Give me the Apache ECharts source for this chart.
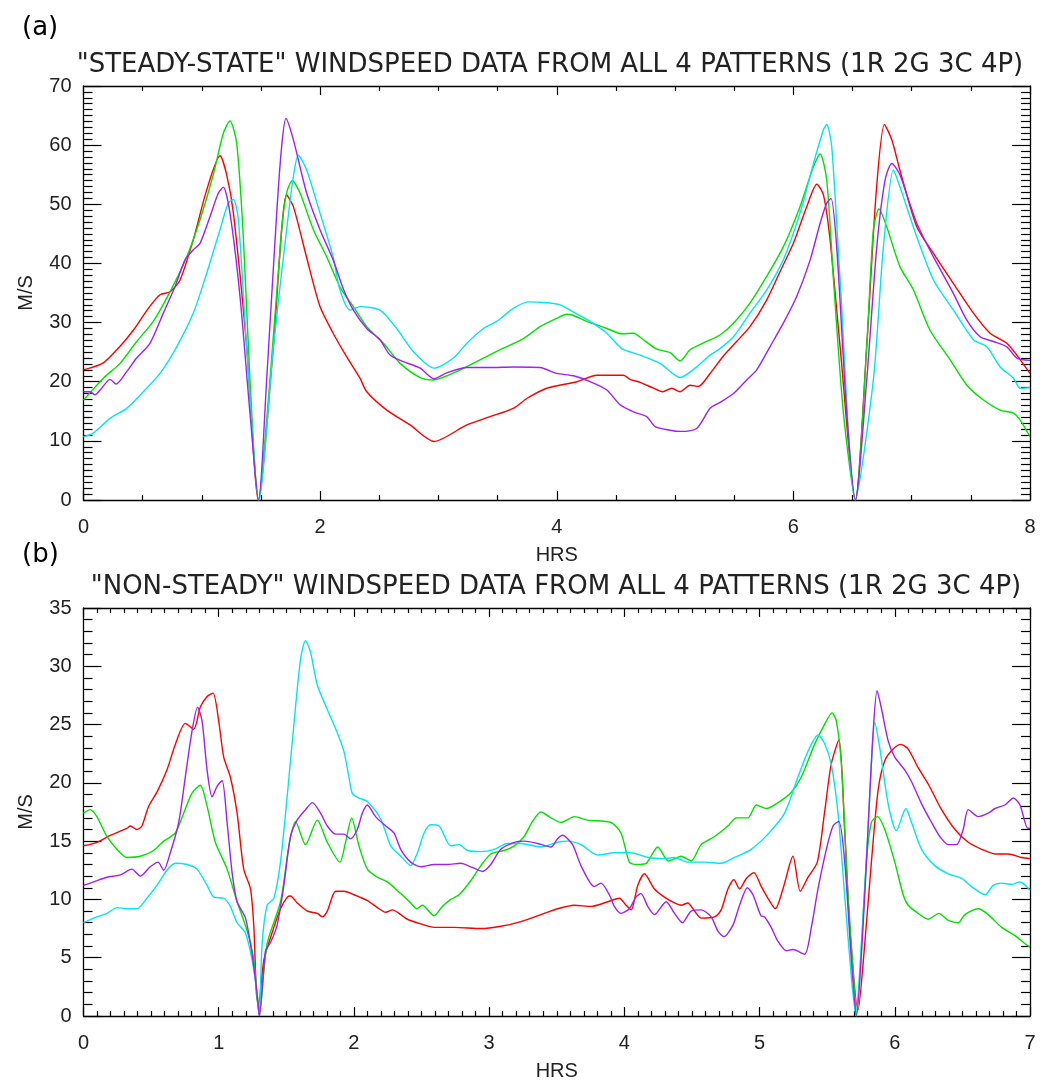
<!DOCTYPE html>
<html>
<head>
<meta charset="utf-8">
<script src="https://cdn.jsdelivr.net/npm/echarts@6/dist/echarts.min.js"></script>
<style>
html,body{margin:0;padding:0;background:#fff;}
#chart{width:1062px;height:1082px;}
</style>
</head>
<body>
<div id="chart"></div>
<script>
// ---------- DATA (hours, m/s) ----------
const panelATitle = '"STEADY-STATE" WINDSPEED DATA FROM ALL 4 PATTERNS (1R 2G 3C 4P)';
const panelBTitle = '"NON-STEADY" WINDSPEED DATA FROM ALL 4 PATTERNS (1R 2G 3C 4P)';
const seriesNames = ['1R', '2G', '3C', '4P'];
const seriesColors = ['#ff0000', '#00e100', '#00e6f0', '#a020f0'];

const steadyRed = [[0,22],[0.168,23.2],[0.309,26],[0.421,28.7],[0.548,32.4],[0.647,34.7],[0.731,35.2],[0.816,37.2],[0.928,44],[1.041,52.4],[1.154,58.2],[1.21,55],[1.267,48.5],[1.379,26],[1.478,0],[1.605,26],[1.717,51.6],[1.774,49.6],[1.886,41],[1.999,32.7],[2.11,28.2],[2.225,24.2],[2.337,20.6],[2.394,18.3],[2.563,15.2],[2.76,12.7],[2.963,9.9],[3.24,12.7],[3.436,14.1],[3.633,15.5],[3.75,17.2],[3.915,18.9],[4.169,20],[4.338,21.1],[4.563,21.1],[4.62,20.4],[4.704,19.9],[4.817,18.9],[4.896,18.3],[4.972,18.9],[5.042,18.3],[5.127,19.4],[5.197,19.2],[5.296,21.4],[5.41,24.4],[5.52,26.8],[5.633,29.3],[5.774,33.8],[5.887,38.6],[6.0,43.4],[6.113,49.6],[6.198,53.4],[6.254,51.6],[6.31,44],[6.395,25.9],[6.524,0],[6.62,26],[6.70,52],[6.77,63.5],[6.832,60.9],[6.9,55.8],[7.043,46.2],[7.184,41.7],[7.353,36.6],[7.522,31.6],[7.663,28.2],[7.804,26.5],[7.888,24.5],[8.0,21.4]];
const steadyGreen = [[0,16.9],[0.168,20.6],[0.309,23.1],[0.45,26.8],[0.59,30.2],[0.731,35.2],[0.872,41.1],[0.985,47.4],[1.097,55],[1.182,62],[1.238,64.1],[1.295,60.3],[1.351,44.5],[1.407,20.3],[1.478,0],[1.576,20.3],[1.675,45.7],[1.717,51.9],[1.765,54],[1.83,51.9],[1.943,45.7],[2.056,41.1],[2.168,36],[2.281,32.7],[2.394,29.3],[2.535,26.5],[2.676,23.1],[2.845,20.7],[2.957,20.3],[3.154,21.7],[3.352,23.7],[3.52,25.4],[3.718,27.3],[3.859,29.3],[3.999,30.7],[4.084,31.4],[4.14,31.2],[4.253,30.2],[4.423,29],[4.55,28.1],[4.648,28.2],[4.732,27.1],[4.845,25.5],[4.958,24.9],[5.042,23.5],[5.127,25.4],[5.268,26.8],[5.38,27.9],[5.494,29.9],[5.633,33.3],[5.774,37.8],[5.915,42.8],[6.056,49.6],[6.17,56.4],[6.226,58.5],[6.282,54.1],[6.339,37.2],[6.423,14.7],[6.524,0],[6.62,26],[6.676,45.7],[6.724,49.2],[6.789,46.2],[6.9,39.5],[7.015,35.5],[7.155,28.7],[7.325,23.7],[7.466,19.4],[7.607,16.9],[7.748,15.2],[7.86,14.7],[7.917,13.5],[8.0,10.7]];
const steadyCyan = [[0,10.7],[0.083,11.3],[0.224,13.8],[0.365,15.5],[0.506,18.3],[0.647,21.4],[0.788,25.9],[0.928,31.6],[1.041,38.3],[1.154,45.7],[1.224,50.2],[1.267,50.8],[1.309,47.4],[1.379,25.9],[1.483,0],[1.605,25.9],[1.717,45.7],[1.774,54.7],[1.816,58.3],[1.886,55.8],[1.999,48.5],[2.11,41.1],[2.168,35.5],[2.253,32.1],[2.337,32.7],[2.506,32.1],[2.647,29],[2.788,25.1],[2.963,22.3],[3.127,24],[3.24,26.5],[3.381,29],[3.493,30.2],[3.633,32.4],[3.76,33.5],[3.887,33.4],[4.028,33],[4.14,31.8],[4.282,30.2],[4.423,28.2],[4.55,25.6],[4.704,24.5],[4.873,23.1],[5.042,20.7],[5.183,22.5],[5.296,24.5],[5.38,25.6],[5.494,27.6],[5.633,31.6],[5.774,35.5],[5.915,40.6],[6.056,48.5],[6.17,56.9],[6.254,62.6],[6.282,63.5],[6.324,59.8],[6.395,37.2],[6.524,0],[6.676,20.3],[6.761,42.8],[6.846,55.8],[6.9,53],[7.043,44.5],[7.184,37.2],[7.353,32.1],[7.522,27.1],[7.635,25.9],[7.748,22.5],[7.86,20.6],[7.917,18.9],[8.0,19]];
const steadyPurple = [[0,18.3],[0.055,18.3],[0.097,17.8],[0.153,18.9],[0.224,20.4],[0.275,19.6],[0.365,21.7],[0.449,24],[0.562,26.5],[0.675,31.6],[0.774,36.1],[0.858,40.6],[0.928,42.3],[0.985,43.4],[1.069,47.9],[1.14,51.9],[1.182,52.9],[1.238,48.5],[1.323,34.4],[1.407,14.7],[1.48,0],[1.548,20.3],[1.633,48.5],[1.675,59.8],[1.711,64.5],[1.774,60.9],[1.886,51.9],[1.999,45.7],[2.11,40.6],[2.2,35.5],[2.281,32.1],[2.394,29],[2.506,27.1],[2.591,24.5],[2.704,23.4],[2.845,22.3],[2.963,20.5],[3.07,21.5],[3.24,22.4],[3.436,22.4],[3.633,22.5],[3.859,22.4],[3.999,21.4],[4.14,21],[4.282,20],[4.423,18.6],[4.535,16.1],[4.648,14.9],[4.76,14.1],[4.831,12.4],[4.958,11.8],[5.042,11.6],[5.183,12.1],[5.296,15.5],[5.38,16.5],[5.494,18],[5.606,20.3],[5.69,22],[5.802,25.9],[5.915,29.9],[6.028,34.4],[6.142,40.6],[6.226,46.8],[6.282,50.2],[6.318,51],[6.366,42.8],[6.451,14.7],[6.524,0],[6.62,20.3],[6.705,42.8],[6.775,54.1],[6.832,56.9],[6.9,55],[7.043,46.8],[7.184,41.1],[7.353,34.9],[7.466,30.4],[7.578,27.6],[7.691,26.8],[7.804,25.9],[7.888,24],[8.0,23.6]];

const nonSteadyRed = [[0,14.6],[0.099,14.9],[0.198,15.5],[0.321,16.1],[0.346,16.3],[0.395,16],[0.432,16.3],[0.482,18],[0.543,19.2],[0.617,21.1],[0.679,23.3],[0.753,25.1],[0.815,24.6],[0.864,26.5],[0.914,27.4],[0.958,27.7],[1.0,25.3],[1.037,22.2],[1.086,20.5],[1.136,17.4],[1.185,12.6],[1.235,10.9],[1.26,7.6],[1.279,1.9],[1.294,1.0],[1.334,4.8],[1.408,7.6],[1.457,9.2],[1.507,10.2],[1.531,10.3],[1.58,9.7],[1.655,9],[1.729,8.8],[1.766,8.5],[1.803,9],[1.865,10.7],[1.926,10.7],[2.0,10.4],[2.099,9.9],[2.173,9.3],[2.235,8.9],[2.284,9.1],[2.346,8.7],[2.395,8.3],[2.494,7.9],[2.593,7.6],[2.741,7.6],[2.939,7.5],[3.087,7.7],[3.235,8.1],[3.383,8.7],[3.506,9.2],[3.63,9.5],[3.753,9.4],[3.877,9.8],[3.963,10.1],[4.013,9.5],[4.05,9.1],[4.099,11.2],[4.148,12.2],[4.222,10.9],[4.296,10.2],[4.371,9.7],[4.42,9.5],[4.469,9.7],[4.519,9],[4.568,8.4],[4.667,8.5],[4.716,9.1],[4.766,10.9],[4.81,11.7],[4.852,10.9],[4.902,11.8],[4.958,12.3],[5.013,11.1],[5.062,10.1],[5.116,9.2],[5.173,10.9],[5.247,13.7],[5.301,10.7],[5.358,11.9],[5.427,13.2],[5.48,17.4],[5.53,21.6],[5.587,23.7],[5.629,16],[5.667,7.6],[5.728,0.5],[5.778,6.2],[5.827,13.2],[5.877,19.4],[5.926,21.9],[5.988,22.9],[6.045,23.3],[6.099,22.9],[6.173,21.3],[6.247,19.9],[6.346,17.7],[6.445,16],[6.543,14.9],[6.642,14.3],[6.741,13.9],[6.84,13.9],[6.938,13.6],[7.0,13.5]];
const nonSteadyGreen = [[0,17.4],[0.049,17.7],[0.099,17.1],[0.173,15.4],[0.247,14.3],[0.321,13.6],[0.42,13.7],[0.519,14.2],[0.593,15],[0.679,15.7],[0.741,17.4],[0.802,19.1],[0.864,19.8],[0.914,18],[0.975,14.9],[1.062,12.6],[1.136,9.8],[1.21,7.3],[1.26,4.8],[1.299,0.1],[1.358,6.2],[1.457,9.8],[1.519,14.6],[1.568,16.7],[1.642,14.7],[1.729,16.8],[1.803,14.9],[1.896,13.2],[1.938,14.9],[1.983,17],[2.037,14.6],[2.099,12.6],[2.173,11.9],[2.247,11.5],[2.346,10.5],[2.42,9.7],[2.464,9.2],[2.506,9.5],[2.593,8.6],[2.654,9.4],[2.716,10],[2.778,10.4],[2.864,11.6],[2.939,12.9],[3.012,13.9],[3.111,14.2],[3.186,14.6],[3.259,15.4],[3.321,16.7],[3.383,17.5],[3.457,17],[3.531,16.6],[3.63,17.1],[3.728,16.8],[3.901,16.6],[3.975,15.7],[4.037,13.2],[4.086,13],[4.161,13.1],[4.247,14.5],[4.326,13.3],[4.42,13.7],[4.494,13.3],[4.568,14.7],[4.667,15.4],[4.766,16.3],[4.828,17],[4.914,17],[4.976,18.1],[5.05,17.8],[5.136,18.3],[5.235,19.2],[5.309,20.5],[5.407,23.3],[5.48,25],[5.536,26],[5.568,25.3],[5.605,21.6],[5.654,10.4],[5.704,1.9],[5.715,0],[5.741,3.3],[5.79,13.2],[5.827,16.6],[5.872,17.1],[5.926,16],[6.0,13.2],[6.062,10.4],[6.099,9.5],[6.173,8.8],[6.247,8.3],[6.326,8.8],[6.395,8.2],[6.469,8],[6.519,8.7],[6.617,9.2],[6.691,8.7],[6.79,7.6],[6.889,6.9],[6.963,6.2],[7.0,5.9]];
const nonSteadyCyan = [[0,8],[0.074,8.4],[0.173,8.8],[0.247,9.3],[0.321,9.2],[0.395,9.2],[0.469,10.1],[0.543,11.2],[0.617,12.5],[0.679,13.1],[0.765,13],[0.84,12.6],[0.914,11.2],[0.963,10.2],[1.037,10.1],[1.086,9.4],[1.136,8],[1.198,7.1],[1.247,4.8],[1.284,1.9],[1.299,0.1],[1.321,6.2],[1.358,9.5],[1.408,10.1],[1.457,13.2],[1.506,18.8],[1.556,25],[1.605,30.6],[1.642,32.2],[1.679,31.2],[1.729,28.4],[1.803,26.3],[1.877,24.3],[1.926,22.7],[1.963,20.5],[1.988,19.1],[2.037,18.7],[2.099,18.4],[2.198,16.9],[2.272,14.6],[2.346,13.7],[2.42,12.9],[2.47,14],[2.519,15.7],[2.568,16.4],[2.63,16.3],[2.716,14.6],[2.778,14.7],[2.839,14.2],[2.939,14.1],[3.037,14.3],[3.136,14.8],[3.235,14.8],[3.383,14.5],[3.506,14.9],[3.58,15],[3.679,14.7],[3.802,13.8],[3.926,14],[4.05,14],[4.173,13.6],[4.296,13.5],[4.371,13.6],[4.469,13.2],[4.592,13.2],[4.716,13.1],[4.815,13.6],[4.938,14.3],[5.062,15.6],[5.185,17.4],[5.284,20.5],[5.358,22.7],[5.432,24.1],[5.48,23.4],[5.53,21.6],[5.58,17.4],[5.629,10.4],[5.679,3.3],[5.711,0.1],[5.753,6.2],[5.802,16],[5.827,21.6],[5.852,25.2],[5.889,23],[5.951,18.2],[6.012,15.9],[6.082,17.8],[6.124,16.6],[6.198,14.3],[6.296,12.9],[6.395,12.2],[6.494,11.8],[6.568,11.1],[6.667,10.4],[6.728,11.2],[6.79,11.4],[6.864,11.3],[6.926,11.5],[7.0,10.8]];
const nonSteadyPurple = [[0,11.2],[0.074,11.5],[0.173,11.9],[0.272,12.1],[0.358,12.6],[0.42,12],[0.494,12.8],[0.551,13.2],[0.593,12.5],[0.642,14],[0.704,16.6],[0.753,20.5],[0.802,24.4],[0.844,26.5],[0.877,25.3],[0.914,21.1],[0.951,18.8],[0.988,19.7],[1.025,20.2],[1.062,16.6],[1.099,12.3],[1.136,9.8],[1.198,8.4],[1.247,5.3],[1.284,1.9],[1.301,0],[1.346,5.6],[1.383,6.3],[1.432,7.8],[1.482,11.2],[1.531,15.4],[1.58,16.8],[1.642,17.7],[1.692,18.3],[1.753,17.4],[1.803,16.3],[1.865,15.6],[1.926,15.6],[1.975,15.2],[2.025,16],[2.062,17.4],[2.099,18.1],[2.16,17.1],[2.235,16.3],[2.296,15.7],[2.346,14.3],[2.42,13.2],[2.494,12.8],[2.593,13],[2.691,13],[2.79,13.1],[2.864,12.8],[2.951,12.4],[3.012,13],[3.086,14.3],[3.186,14.9],[3.259,15],[3.358,14.8],[3.457,14.5],[3.506,15.2],[3.543,15.5],[3.617,14.7],[3.679,12.9],[3.778,11.1],[3.827,11.4],[3.889,10.4],[3.926,9.4],[3.975,8.8],[4.037,9.2],[4.086,10.2],[4.123,10.5],[4.173,9.4],[4.222,8.7],[4.309,9.8],[4.371,8.8],[4.429,8],[4.494,9],[4.568,9.1],[4.642,8.5],[4.691,7.3],[4.736,6.8],[4.803,7.8],[4.852,9.5],[4.91,11],[4.951,10.4],[5.01,8.6],[5.037,8.5],[5.086,7.6],[5.136,6.4],[5.198,5.6],[5.247,5.7],[5.333,5.3],[5.383,7.6],[5.432,10.9],[5.494,14.3],[5.543,16.3],[5.586,16.7],[5.63,13.2],[5.679,4.8],[5.716,0],[5.765,7.6],[5.802,16],[5.84,24.4],[5.869,27.9],[5.901,26.4],[5.951,23.6],[6.0,22.2],[6.074,21.1],[6.124,20.1],[6.198,18.2],[6.272,16.6],[6.333,15.4],[6.395,14.7],[6.457,14.7],[6.506,16],[6.543,17.7],[6.617,17.1],[6.691,17.4],[6.741,17.8],[6.815,18.1],[6.877,18.7],[6.926,18.1],[6.983,16.1],[7.0,16.1]];

const steadySet = [steadyRed, steadyGreen, steadyCyan, steadyPurple];
const nonSteadySet = [nonSteadyRed, nonSteadyGreen, nonSteadyCyan, nonSteadyPurple];

// ---------- CHART ----------
const chart = echarts.init(document.getElementById('chart'), null, {renderer: 'canvas'});
const axisCol = '#000';
const labelFont = {fontFamily: 'Liberation Sans', fontSize: 20, color: '#222'};

function xAx(grid, pos, max, interval, minorSplit, withLabels) {
  return {
    type: 'value', gridIndex: grid, position: pos, min: 0, max: max, interval: interval,
    axisLine: {show: true, onZero: false, lineStyle: {color: axisCol, width: 1.3}},
    axisTick: {show: true, inside: true, length: 9, lineStyle: {color: axisCol, width: 1.2}},
    minorTick: {show: true, splitNumber: minorSplit, length: 5, lineStyle: {color: axisCol, width: 1.2}},
    splitLine: {show: false},
    axisLabel: Object.assign({show: withLabels, margin: 17}, labelFont),
    name: withLabels ? 'HRS' : '', nameLocation: 'middle', nameGap: 45,
    nameTextStyle: labelFont
  };
}
function yAx(grid, pos, max, interval, minorSplit, withLabels) {
  return {
    type: 'value', gridIndex: grid, position: pos, min: 0, max: max, interval: interval,
    axisLine: {show: true, onZero: false, lineStyle: {color: axisCol, width: 1.3}},
    axisTick: {show: true, inside: true, length: 18, lineStyle: {color: axisCol, width: 1.2}},
    minorTick: {show: true, splitNumber: minorSplit, length: 9, lineStyle: {color: axisCol, width: 1.2}},
    splitLine: {show: false},
    axisLabel: Object.assign({show: withLabels, margin: 12}, labelFont),
    name: withLabels ? 'M/S' : '', nameLocation: 'middle', nameGap: 47,
    nameTextStyle: labelFont
  };
}

const series = [];
steadySet.forEach((d, i) => series.push({
  name: seriesNames[i], type: 'line', xAxisIndex: 0, yAxisIndex: 0, data: d,
  showSymbol: false, smooth: 0.25, lineStyle: {color: seriesColors[i], width: 1.4}, itemStyle: {color: seriesColors[i]}
}));
nonSteadySet.forEach((d, i) => series.push({
  name: seriesNames[i], type: 'line', xAxisIndex: 2, yAxisIndex: 2, data: d,
  showSymbol: false, smooth: 0.25, lineStyle: {color: seriesColors[i], width: 1.4}, itemStyle: {color: seriesColors[i]}
}));

const titleFont = {fontFamily: 'DejaVu Sans', fontSize: 26, fill: '#222'};
const option = {
  animation: false,
  backgroundColor: '#fff',
  grid: [
    {left: 83.5, top: 86, width: 946.5, height: 414},
    {left: 83.5, top: 608, width: 946.5, height: 415}
  ],
  xAxis: [
    xAx(0, 'bottom', 8, 2, 4, true),
    xAx(0, 'top', 8, 2, 4, false),
    xAx(1, 'bottom', 7, 1, 10, true),
    xAx(1, 'top', 7, 1, 10, false)
  ],
  yAxis: [
    yAx(0, 'left', 70, 10, 10, true),
    yAx(0, 'right', 70, 10, 10, false),
    yAx(1, 'left', 35, 5, 5, true),
    yAx(1, 'right', 35, 5, 5, false)
  ],
  graphic: [
    {type: 'text', left: 22, top: 15, style: {text: '(a)', fontFamily: 'DejaVu Sans', fontSize: 26, fill: '#000'}},
    {type: 'text', left: 22, top: 542, style: {text: '(b)', fontFamily: 'DejaVu Sans', fontSize: 26, fill: '#000'}},
    {type: 'text', x: 550, y: 65, style: Object.assign({text: panelATitle, textAlign: 'center', textVerticalAlign: 'middle'}, titleFont)},
    {type: 'text', x: 556, y: 587, style: Object.assign({text: panelBTitle, textAlign: 'center', textVerticalAlign: 'middle'}, titleFont)}
  ],
  series: series
};
chart.setOption(option);
</script>
</body>
</html>
